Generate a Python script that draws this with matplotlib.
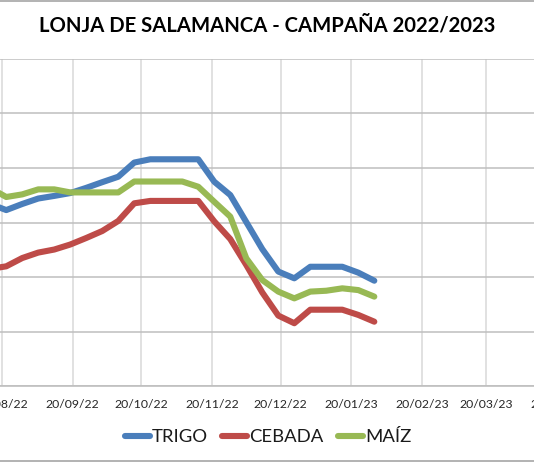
import matplotlib
matplotlib.use("Agg")
import matplotlib.pyplot as plt
import matplotlib.dates as mdates
from matplotlib.lines import Line2D
import numpy as np
import datetime as dt

plt.rcParams['font.family'] = ['Lato', 'DejaVu Sans']

# Weekly session dates (Mondays)
dates = ["2022-08-15", "2022-08-22", "2022-08-29", "2022-09-05", "2022-09-12",
         "2022-09-19", "2022-09-26", "2022-10-03", "2022-10-10", "2022-10-17",
         "2022-10-24", "2022-10-31", "2022-11-07", "2022-11-14", "2022-11-21",
         "2022-11-28", "2022-12-05", "2022-12-12", "2022-12-19", "2022-12-26",
         "2023-01-02", "2023-01-09", "2023-01-16", "2023-01-23", "2023-01-30"]

trigo = [333.5, 330.7, 333.5, 336.0, 337.2, 338.5, 340.9, 343.5, 346.0, 352.5,
         354.0, 354.0, 354.0, 354.0, 343.7, 337.6, 325.2, 312.8, 302.5, 299.4,
         304.7, 304.7, 304.7, 302.0, 298.3]

cebada = [303.7, 304.9, 308.7, 311.2, 312.6, 314.9, 317.9, 321.1, 325.7, 333.8,
          334.9, 334.9, 334.9, 334.9, 325.5, 317.4, 305.5, 292.9, 282.3, 278.8,
          285.0, 285.0, 285.0, 282.6, 279.5]

maiz = [340.8, 336.7, 337.9, 340.2, 340.2, 338.8, 338.8, 338.8, 338.8, 343.8,
        343.8, 343.8, 343.8, 341.4, 334.5, 327.7, 308.6, 298.6, 293.3, 290.2,
        293.3, 293.7, 294.8, 294.0, 291.0]

series_names = ["TRIGO", "CEBADA", "MAÍZ"]
series_colors = ["#4A7EBB", "#BE4B48", "#98B954"]

tick_dates = ["2022-07-20", "2022-08-20", "2022-09-20", "2022-10-20", "2022-11-20",
              "2022-12-20", "2023-01-20", "2023-02-20", "2023-03-20", "2023-04-20"]

title = "LONJA DE SALAMANCA - CAMPAÑA 2022/2023"

W, H = 534, 462
fig = plt.figure(figsize=(W / 100, H / 100), dpi=100)

# pixel geometry of the plot area (extends beyond the visible image at left/right)
x_left_px, x_right_px = -69.2, 557.2
y_top_px, y_bot_px = 59, 386
ax = fig.add_axes([x_left_px / W, 1 - y_bot_px / H,
                   (x_right_px - x_left_px) / W, (y_bot_px - y_top_px) / H])

d = [dt.datetime.strptime(s, "%Y-%m-%d") for s in dates]
td = [dt.datetime.strptime(s, "%Y-%m-%d") for s in tick_dates]

for vals, name, col in zip([trigo, cebada, maiz], series_names, series_colors):
    ax.plot(d, vals, color=col, lw=4.4, solid_joinstyle='round',
            solid_capstyle='round', label=name, zorder=3)

ax.set_xlim(td[0], td[-1])
ax.set_ylim(250, 400)
ax.set_yticks(np.arange(250, 401, 25))
ax.set_xticks(td)
ax.xaxis.set_major_formatter(mdates.DateFormatter("%d/%m/%y"))
ax.tick_params(axis='x', length=0, pad=9, labelsize=8.8, colors='#262626')
ax.tick_params(axis='y', length=0, labelleft=False)

ax.grid(axis='y', color='#BFBFBF', lw=1.1, zorder=0)
ax.grid(axis='x', color='#D9D9D9', lw=1.1, zorder=0)
for s in ['left', 'right', 'top']:
    ax.spines[s].set_visible(False)
ax.spines['bottom'].set_color('#BFBFBF')
ax.spines['bottom'].set_linewidth(1.2)

fig.text(0.5, 1 - 26 / H, title, ha='center', va='center',
         fontsize=14.6, fontweight='bold', color='black')

handles = [Line2D([0], [0], color=c, lw=4.4, solid_capstyle='round')
           for c in series_colors]
fig.legend(handles, series_names, loc='center', ncol=3,
           bbox_to_anchor=(268 / W, 1 - 437 / H), frameon=False,
           fontsize=13.3, handlelength=1.35, handletextpad=0.1,
           columnspacing=0.8, labelcolor='#1a1a1a')

# outer chart border (top and bottom visible)
fig.add_artist(Line2D([0, 1], [1 - 0.8 / H, 1 - 0.8 / H], color='#A6A6A6',
                      lw=1.2, transform=fig.transFigure))
fig.add_artist(Line2D([0, 1], [1 - 460.5 / H, 1 - 460.5 / H], color='#A6A6A6',
                      lw=1.2, transform=fig.transFigure))

fig.savefig("out.png", dpi=100)
